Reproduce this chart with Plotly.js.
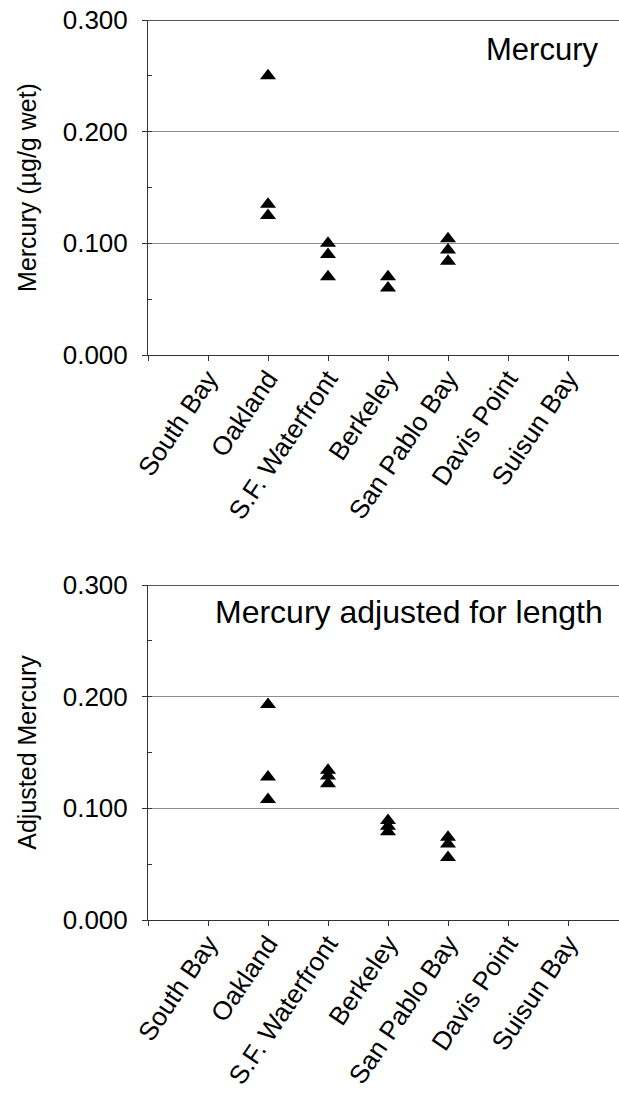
<!DOCTYPE html>
<html>
<head>
<meta charset="utf-8">
<script src="https://cdn.plot.ly/plotly-3.0.1.min.js"></script>
<style>html,body{margin:0;padding:0;background:#fff;}#chart{width:619px;height:1100px;}</style>
</head>
<body>
<div id="chart"></div>
<script>
// Site categories
var sites = ["South Bay", "Oakland", "S.F. Waterfront", "Berkeley", "San Pablo Bay", "Davis Point", "Suisun Bay"];

// Mercury (µg/g wet) - individual samples
var hgSite = ["Oakland", "Oakland", "Oakland",
              "S.F. Waterfront", "S.F. Waterfront", "S.F. Waterfront",
              "Berkeley", "Berkeley",
              "San Pablo Bay", "San Pablo Bay", "San Pablo Bay"];
var hgValue = [0.250, 0.135, 0.125,
               0.100, 0.090, 0.070,
               0.070, 0.060,
               0.104, 0.094, 0.084];

// Mercury adjusted for length
var adjSite = ["Oakland", "Oakland", "Oakland",
               "S.F. Waterfront", "S.F. Waterfront", "S.F. Waterfront",
               "Berkeley", "Berkeley", "Berkeley",
               "San Pablo Bay", "San Pablo Bay", "San Pablo Bay"];
var adjValue = [0.193, 0.128, 0.108,
                0.134, 0.129, 0.122,
                0.089, 0.084, 0.079,
                0.074, 0.068, 0.056];

var yTicks = [0, 0.1, 0.2, 0.3];
var yTickText = ["0.000", "0.100", "0.200", "0.300"];

function idx(arr) { return arr.map(function (s) { return sites.indexOf(s); }); }

var FONT = "Liberation Sans, Arial, Helvetica, sans-serif";

var traces = [
  { x: idx(hgSite), y: hgValue, xaxis: "x", yaxis: "y", type: "scatter", mode: "markers",
    marker: { symbol: "triangle-up", size: 14, color: "#000" }, hoverinfo: "skip" },
  { x: idx(adjSite), y: adjValue, xaxis: "x2", yaxis: "y2", type: "scatter", mode: "markers",
    marker: { symbol: "triangle-up", size: 14, color: "#000" }, hoverinfo: "skip" }
];

var xTickVals = [-1].concat(sites.map(function (s, i) { return i; }));
var xTickText = [""].concat(sites);

function xaxis(anchor) {
  return {
    anchor: anchor, domain: [0, 1], range: [-1, 6.85],
    showgrid: false, zeroline: false, showline: true, linecolor: "#333", linewidth: 1,
    ticks: "outside", ticklen: 5, tickcolor: "#333", tickwidth: 1,
    tickmode: "array", tickvals: xTickVals, ticktext: xTickText,
    ticklabelstandoff: -8,
    tickangle: -56, tickfont: { family: FONT, size: 26, color: "#000" },
    fixedrange: true
  };
}
function yaxis(anchor, domain, title) {
  return {
    anchor: anchor, domain: domain, range: [0, 0.3],
    showgrid: true, gridcolor: "#8c8c8c", gridwidth: 1, zeroline: false,
    showline: true, linecolor: "#333", linewidth: 1,
    ticks: "outside", ticklen: 5, tickcolor: "#333", tickwidth: 1,
    tickmode: "array", tickvals: yTicks, ticktext: yTickText,
    ticklabelstandoff: 9,
    tickfont: { family: FONT, size: 26, color: "#000" },
    minor: { ticks: "inside", ticklen: 4, tickcolor: "#333", dtick: 0.05, showgrid: false },
    title: { text: title, font: { family: FONT, size: 25, color: "#000" }, standoff: 18 },
    fixedrange: true
  };
}

var layout = {
  width: 619, height: 1100,
  margin: { l: 148, r: 0, t: 0, b: 0 },
  paper_bgcolor: "#fff", plot_bgcolor: "#fff",
  showlegend: false,
  xaxis: xaxis("y"),
  yaxis: yaxis("x", [1 - 355 / 1100, 1 - 20 / 1100], "Mercury (µg/g wet)"),
  xaxis2: xaxis("y2"),
  yaxis2: yaxis("x2", [1 - 920 / 1100, 1 - 585 / 1100], "Adjusted Mercury"),
  shapes: [
    { type: "line", xref: "x domain", yref: "y", x0: 0, x1: 1, y0: 0.3, y1: 0.3, line: { color: "#555", width: 2 } },
    { type: "line", xref: "x2 domain", yref: "y2", x0: 0, x1: 1, y0: 0.3, y1: 0.3, line: { color: "#555", width: 2 } }
  ],
  annotations: [
    { text: "Mercury", xref: "paper", yref: "paper", x: (600 - 148) / 471, y: 1 - 49 / 1100,
      xanchor: "right", yanchor: "middle", showarrow: false,
      font: { family: FONT, size: 31, color: "#000" } },
    { text: "Mercury adjusted for length", xref: "paper", yref: "paper", x: (605 - 148) / 471, y: 1 - 612 / 1100,
      xanchor: "right", yanchor: "middle", showarrow: false,
      font: { family: FONT, size: 32, color: "#000" } }
  ]
};

Plotly.newPlot("chart", traces, layout, { displayModeBar: false, staticPlot: true });
</script>
</body>
</html>
